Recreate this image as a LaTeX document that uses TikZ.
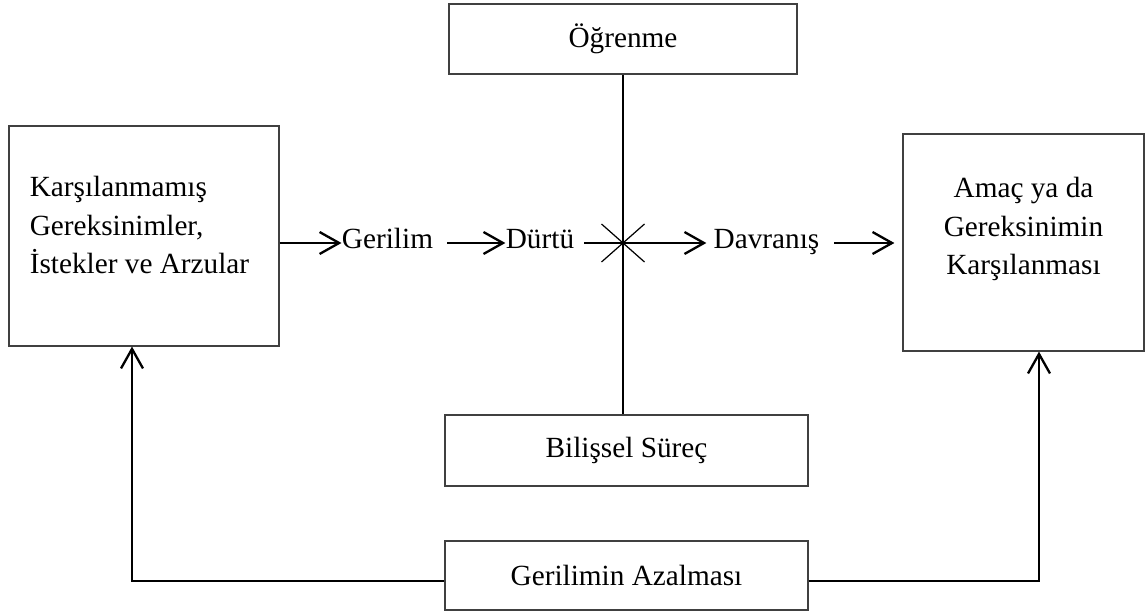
\documentclass[tikz,border=0pt]{standalone}
\usepackage{fontspec}
\setmainfont{Liberation Serif}
\usetikzlibrary{arrows.meta}

\tikzset{
  box/.style={draw=black!75, line width=0.45pt, rectangle, inner sep=0pt},
  lbl/.style={inner sep=0pt, anchor=mid},
  flow/.style={-{Straight Barb[length=8pt,width=9pt]}, line width=0.95pt},
}

\begin{document}
\begin{tikzpicture}[x=0.41pt, y=-0.41pt, font=\fontsize{12}{15.6}\selectfont]
\useasboundingbox (0,0) rectangle (1145,614);
% boxes
\node[box, minimum width=142.7pt, minimum height=28.7pt] (ogr) at (623,39) {Öğrenme};
\node[box, minimum width=110.7pt, minimum height=90.2pt] (needs) at (144,236) {};
\node[align=left, inner sep=0pt] (needstxt) at (139.5,225) {Karşılanmamış\\Gereksinimler,\\İstekler ve Arzular};
\node[box, minimum width=98.8pt, minimum height=89pt] (goal) at (1023.5,242.5) {};
\node[align=center, inner sep=0pt] (goaltxt) at (1023.5,229) {Amaç ya da\\Gereksinimin\\Karşılanması};
\node[box, minimum width=148.8pt, minimum height=29.1pt] (bilis) at (626.5,450.5) {Bilişsel Süreç};
\node[box, minimum width=148.8pt, minimum height=28.3pt] (azal) at (626.5,575.5) {Gerilimin Azalması};
% row labels
\node[lbl] (ger) at (387.5,243) {Gerilim};
\node[lbl] (dur) at (540,243) {Dürtü};
\node[lbl] (dav) at (766.5,243) {Davranış};
\coordinate (cross) at (623,243);
% arrows
\draw[flow] (needs.east |- ger.mid) -- (ger.mid west);
\draw[flow, shorten <=5.7pt] (ger.mid east) -- (dur.mid west);
\draw[flow, shorten <=4pt, shorten >=2.8pt] (dur.mid east) -- (dav.mid west);
\draw[flow, shorten <=6pt, shorten >=3.3pt] (dav.mid east) -- (goal.west |- dav.mid);
% learning / cognition line and cross
\draw[line width=0.65pt] (ogr.south) -- (ogr.south |- bilis.north);
\draw[line width=0.5pt] ([shift={(-21.5,-19)}]cross) -- ([shift={(21.5,19)}]cross);
\draw[line width=0.5pt] ([shift={(-21.5,19)}]cross) -- ([shift={(21.5,-19)}]cross);
% feedback
\coordinate (lc) at (132,581);
\coordinate (rc) at (1039,581);
\draw[flow] (azal.west |- lc) -- (lc) -- (lc |- needs.south);
\draw[flow] (azal.east |- rc) -- (rc) -- (rc |- goal.south);
\end{tikzpicture}
\end{document}
